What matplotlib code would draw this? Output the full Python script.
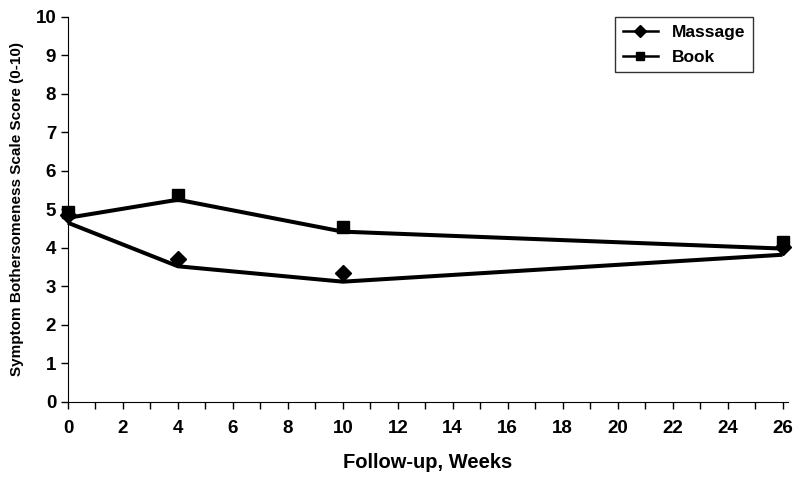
import matplotlib
matplotlib.use("Agg")
import matplotlib.pyplot as plt
from matplotlib.ticker import MultipleLocator

plt.rcParams['font.family'] = ['Liberation Sans', 'DejaVu Sans']
plt.rcParams['font.weight'] = 'bold'

weeks = [0, 4, 10, 26]
# observed means (markers)
massage_obs = [4.85, 3.71, 3.35, 4.03]
book_obs = [4.94, 5.38, 4.55, 4.16]
# fitted values (lines)
massage_fit = [4.65, 3.52, 3.12, 3.82]
book_fit = [4.78, 5.25, 4.42, 3.98]

fig = plt.figure(figsize=(8, 4.84), dpi=100)
ax = fig.add_axes([0.085, 0.17, 0.9, 0.795])

# fitted lines
ax.plot(weeks, massage_fit, color='black', lw=2.9, solid_capstyle='butt', clip_on=False)
ax.plot(weeks, book_fit, color='black', lw=2.9, solid_capstyle='butt', clip_on=False)
# observed markers
ax.plot(weeks, massage_obs, 'D', color='black', ms=8, ls='none', clip_on=False)
ax.plot(weeks, book_obs, 's', color='black', ms=9, ls='none', clip_on=False)

# legend entries
ax.plot([], [], color='black', lw=1.8, marker='D', ms=6, label='Massage')
ax.plot([], [], color='black', lw=1.8, marker='s', ms=6, label='Book')
leg = ax.legend(loc='upper right', bbox_to_anchor=(753 / 800, 1 - 17 / 484),
                bbox_transform=fig.transFigure, frameon=True,
                fancybox=False, edgecolor='black', fontsize=12.5,
                handlelength=2.0, borderpad=0.45, labelspacing=0.55,
                borderaxespad=0)
leg.get_frame().set_linewidth(1.0)

ax.set_xlim(0, 26.2)
ax.set_ylim(0, 10)
ax.xaxis.set_major_locator(MultipleLocator(2))
ax.xaxis.set_minor_locator(MultipleLocator(1))
ax.yaxis.set_major_locator(MultipleLocator(1))
ax.spines['top'].set_visible(False)
ax.spines['right'].set_visible(False)
ax.tick_params(axis='both', which='both', direction='out', length=5, width=1, labelsize=13.5)
ax.tick_params(axis='x', which='minor', length=5)
ax.tick_params(axis='x', pad=8)
for lab in ax.get_xticklabels() + ax.get_yticklabels():
    lab.set_fontweight('bold')

ax.set_xlabel('Follow-up, Weeks', fontsize=14.5, fontweight='bold', labelpad=12)
ax.set_ylabel('Symptom Bothersomeness Scale Score (0-10)', fontsize=11, fontweight='bold', labelpad=8)

fig.savefig('out.png', dpi=100)
